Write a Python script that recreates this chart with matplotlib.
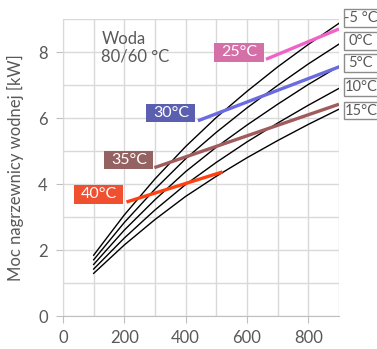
import matplotlib
matplotlib.use("Agg")
import matplotlib.pyplot as plt
import matplotlib.patches as patches
from matplotlib.ticker import MultipleLocator

plt.rcParams['font.family'] = ['Lato', 'DejaVu Sans']

# Air flow [m3/h] and heater power [kW] for each inlet air temperature
flow = [100, 200, 300, 400, 500, 600, 700, 800, 900]
power_m5 = [1.85, 3.07, 4.16, 5.14, 6.02, 6.81, 7.55, 8.23, 8.87]
power_0 = [1.71, 2.84, 3.85, 4.77, 5.57, 6.31, 6.99, 7.64, 8.24]
power_5 = [1.57, 2.61, 3.53, 4.38, 5.12, 5.79, 6.42, 7.02, 7.57]
power_10 = [1.43, 2.37, 3.22, 3.99, 4.66, 5.28, 5.85, 6.39, 6.90]
power_15 = [1.30, 2.16, 2.93, 3.63, 4.24, 4.80, 5.32, 5.81, 6.27]
inlet_labels = ["-5 °C", "0°C", "5°C", "10°C", "15°C"]

# Outlet air temperature lines (flow, power)
out_25_x = [662, 900]
out_25_y = [7.78, 8.70]
out_30_x = [440, 900]
out_30_y = [5.92, 7.55]
out_35_x = [298, 900]
out_35_y = [4.50, 6.42]
out_40_x = [207, 520]
out_40_y = [3.46, 4.37]
outlet_labels = ["25°C", "30°C", "35°C", "40°C"]

grey = '#595959'
grid_c = '#d9d9d9'

fig = plt.figure(figsize=(3.77, 3.49), dpi=100)
ax = fig.add_axes([63/377, 1 - 316.3/349, 276/377, 297.3/349])

for p in [power_m5, power_0, power_5, power_10, power_15]:
    ax.plot(flow, p, color='black', lw=1.0, zorder=3)

line_cols = ['#f062c8', '#6b6be0', '#a05c5c', '#ff4010']
box_cols = ['#d46fa8', '#5b5fb0', '#956262', '#f0502f']
lines = [(out_25_x, out_25_y), (out_30_x, out_30_y),
         (out_35_x, out_35_y), (out_40_x, out_40_y)]
for (lx, ly), c in zip(lines, line_cols):
    ax.plot(lx, ly, color=c, lw=2.4, solid_capstyle='butt', zorder=4)

# label boxes for outlet temperatures (centre in data coords)
box_w = 160
box_h = 0.56
box_centres = [(574, 7.99), (352, 6.15), (215, 4.73), (117, 3.69)]
for (cx, cy), c, txt in zip(box_centres, box_cols, outlet_labels):
    ax.add_patch(patches.Rectangle((cx - box_w/2, cy - box_h/2), box_w, box_h,
                                   facecolor=c, edgecolor='none', zorder=5,
                                   clip_on=False))
    ax.text(cx, cy, txt, color='white', fontsize=11.5, ha='center',
            va='center', zorder=6, clip_on=False)

# inlet temperature labels on the right
right_tops = [9.3, 8.6, 7.93, 7.2, 6.5]
for top, txt in zip(right_tops, inlet_labels):
    ax.add_patch(patches.Rectangle((917, top - 0.54), 150, 0.54,
                                   facecolor='white', edgecolor='#8c8c8c',
                                   lw=1, zorder=5, clip_on=False))
    ax.text(971, top - 0.27, txt, color=grey, fontsize=10.5, ha='center',
            va='center', zorder=6, clip_on=False)

ax.text(125, 8.65, "Woda\n80/60 °C", color=grey, fontsize=12,
        va='top', ha='left', linespacing=1.15)

ax.set_xlim(0, 900)
ax.set_ylim(0, 9)
ax.xaxis.set_major_locator(MultipleLocator(200))
ax.xaxis.set_minor_locator(MultipleLocator(100))
ax.yaxis.set_major_locator(MultipleLocator(2))
ax.yaxis.set_minor_locator(MultipleLocator(1))
ax.grid(True, which='both', color=grid_c, lw=1)
ax.set_axisbelow(True)

for s in ['top', 'right']:
    ax.spines[s].set_visible(False)
ax.spines['left'].set_color(grid_c)
ax.spines['bottom'].set_color('#bfbfbf')

ax.tick_params(which='major', length=5, color='#bfbfbf', labelcolor=grey,
               labelsize=12)
ax.tick_params(axis='x', pad=5)
ax.tick_params(axis='y', pad=6)
ax.tick_params(which='minor', length=0)

ax.set_ylabel("Moc nagrzewnicy wodnej [kW]", color=grey, fontsize=12,
              labelpad=10)

fig.savefig("out.png", dpi=100)
